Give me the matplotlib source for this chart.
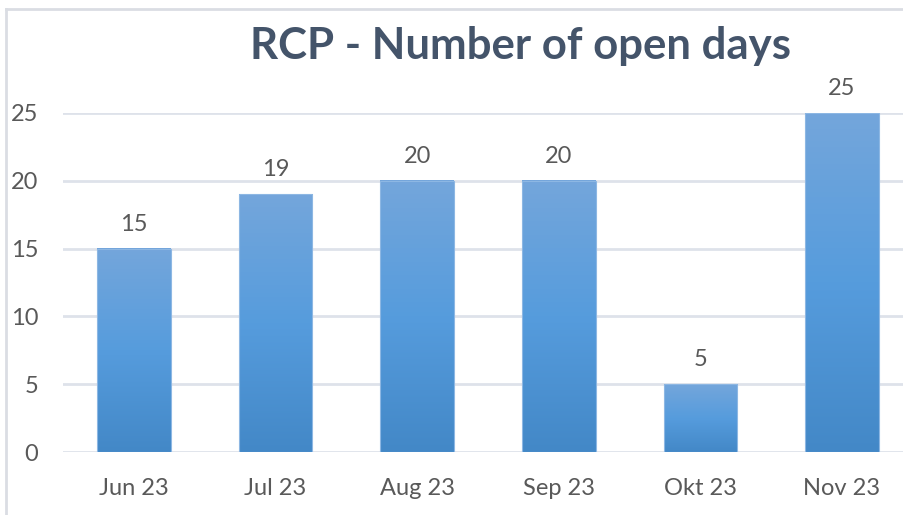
import matplotlib
matplotlib.use("Agg")
import matplotlib.pyplot as plt
import numpy as np
from matplotlib.colors import LinearSegmentedColormap
from matplotlib.lines import Line2D

# data
months = ['Jun 23', 'Jul 23', 'Aug 23', 'Sep 23', 'Okt 23', 'Nov 23']
open_days = [15, 19, 20, 20, 5, 25]
yticks = [0, 5, 10, 15, 20, 25]

plt.rcParams['font.family'] = ['Lato', 'DejaVu Sans']

fig = plt.figure(figsize=(9.04, 5.15), dpi=100)
ax = fig.add_axes([0.0699, 0.1223, 0.9398, 0.6583])

# excel-ish blue gradient, light on top, darker at the bottom
grad = LinearSegmentedColormap.from_list('bluegrad', ['#4388C7', '#569CDD', '#74A6DB'])
x = np.arange(len(months))
bars = ax.bar(x, open_days, width=0.52, color='none', edgecolor='#8DB7E3', linewidth=0.8, zorder=3)
g = np.linspace(0, 1, 256).reshape(-1, 1)
for b in bars:
    x0, w, h = b.get_x(), b.get_width(), b.get_height()
    ax.imshow(g, cmap=grad, origin='lower', aspect='auto', extent=[x0, x0 + w, 0, h], zorder=2)

for xi, v in zip(x, open_days):
    ax.annotate(str(v), (xi, v), xytext=(0, 10), textcoords='offset points',
                ha='center', va='bottom', fontsize=17, color='#595959')

ax.set_xlim(-0.5, len(months) - 0.5)
ax.set_ylim(0, 25)
ax.set_xticks(x)
ax.set_xticklabels(months)
ax.set_yticks(yticks)
ax.tick_params(axis='both', length=0, labelsize=17, labelcolor='#595959')
ax.tick_params(axis='y', pad=18)
ax.tick_params(axis='x', pad=19)
ax.grid(axis='y', color='#DEE2EA', linewidth=2, zorder=0)
ax.set_axisbelow(True)
for s in ax.spines.values():
    s.set_visible(False)

fig.text(0.576, 0.91, 'RCP - Number of open days', ha='center', va='center',
         fontsize=31.5, fontweight='bold', color='#44546A')

# chart area border (cut off at right and bottom)
fig.add_artist(Line2D([6 / 904, 6 / 904], [0, 1 - 9 / 515], color='#DADDE3', linewidth=2))
fig.add_artist(Line2D([6 / 904, 1], [1 - 9 / 515, 1 - 9 / 515], color='#DADDE3', linewidth=2))

fig.savefig('out.png', dpi=100)
